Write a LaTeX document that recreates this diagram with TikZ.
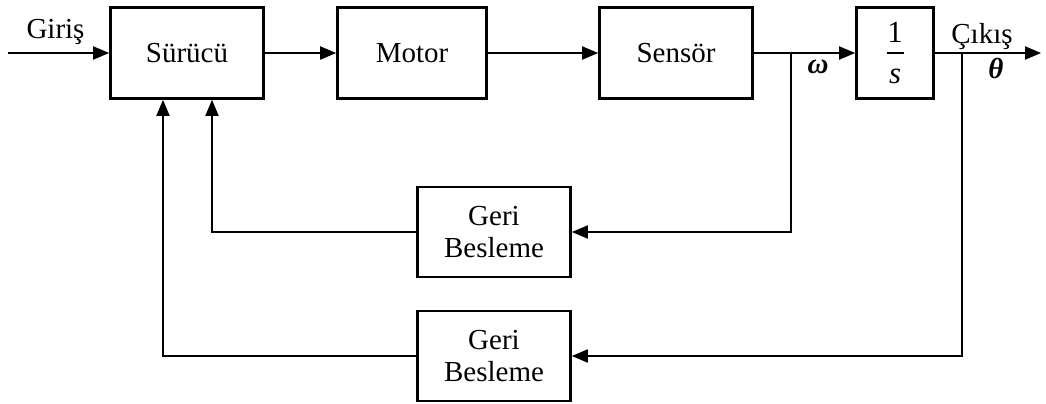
\documentclass[tikz,border=0pt]{standalone}
\usepackage{amsmath}
\usepackage{fontspec}
\setmainfont{Liberation Serif}
\usetikzlibrary{shapes, arrows}
\tikzstyle{block} = [rectangle, minimum width=3.06cm, minimum height=1.82cm, text centered, draw=black, line width=1.6pt, align=center]
\tikzstyle{arrow} = [line width=1.1pt,->,>=triangle 45]
\tikzstyle{line} = [line width=1.1pt]

\begin{document}
\begin{tikzpicture}[x=0.02cm, y=-0.02cm, font=\fontsize{16.5}{18.2}\selectfont]
\useasboundingbox (0,0) rectangle (1046,403);

\node at (187, 53) (surucu) [block] {Sürücü};
\node at (412, 53) (motor) [block, minimum width=2.98cm] {Motor};
\node at (676, 53) (sensor) [block] {Sensör};
\node at (895, 53) (integ) [block, minimum width=1.54cm, font=\fontsize{17.5}{7}\selectfont]
  {1\\\rule{0.34cm}{1.1pt}\\[7.6pt]\textit{s}};

\node at (494, 232) (geri1) [block, minimum height=1.8cm] {Geri\\Besleme};
\node at (494, 356) (geri2) [block, minimum height=1.8cm] {Geri\\Besleme};

\coordinate (giris) at (8, 53);
\coordinate (cikis) at (1041, 53);
\coordinate (j1) at (791, 53);
\coordinate (j2) at (962, 53);

\draw [arrow] (giris) -- (surucu) node [pos=0.47, above=1pt] {Giriş};
\draw [arrow] (surucu) -- (motor);
\draw [arrow] (motor) -- (sensor);
\draw [arrow] (sensor) -- (integ);
\draw [arrow] (integ) -- (cikis);

\node at (818, 67) (omega) {\textbf{\textit{ω}}};
\node at (982, 37) (cikislbl) {Çıkış};
\node at (996, 69) (theta) {\textbf{\textit{θ}}};

% hiz geri beslemesi
\draw [arrow] (j1) |- (geri1);
\draw [arrow] (geri1) -| ([xshift=0.5cm]surucu.south);

% konum geri beslemesi
\draw [arrow] (j2) |- (geri2);
\draw [arrow] (geri2) -| ([xshift=-0.48cm]surucu.south);

\end{tikzpicture}
\end{document}
